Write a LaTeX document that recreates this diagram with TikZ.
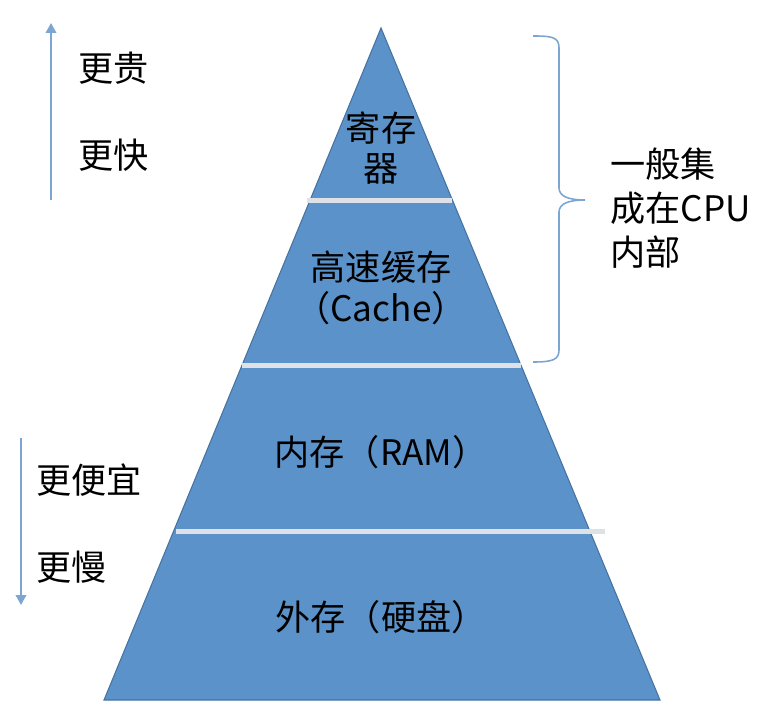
\documentclass[tikz,border=0pt]{standalone}
\usepackage{fontspec}
\setmainfont{Noto Sans CJK SC}
\usetikzlibrary{arrows.meta}

\definecolor{pyrblue}{RGB}{91,146,201}
\definecolor{pyredge}{RGB}{70,115,160}
\definecolor{arrblue}{RGB}{125,165,210}
\definecolor{sepgray}{RGB}{222,226,230}

\begin{document}
\begin{tikzpicture}[x = 0.02cm, y = -0.02cm]
\tikzstyle{LabelStyle}=[font = \fontsize{20pt}{23pt}\selectfont,
                        align = center,
                        inner sep = 0pt]
\tikzstyle{SideStyle}=[font = \fontsize{20pt}{25pt}\selectfont,
                       anchor = west,
                       inner sep = 0pt]
\tikzstyle{BarStyle}=[draw = sepgray, line width = 0.1cm]
\tikzstyle{ArrowStyle}=[draw = arrblue, line width = 1.1pt, -{Triangle[width = 0.21cm, length = 0.2cm]}]
\tikzstyle{BraceStyle}=[draw = arrblue, line width = 0.9pt]
\useasboundingbox (0,0) rectangle (766,716);
% pyramid
\filldraw[fill = pyrblue, draw = pyredge, line width = 0.6pt] (381,28) -- (660,700) -- (104,700) -- cycle;
\draw[BarStyle] (307,200) -- (452,200);
\draw[BarStyle] (242,365) -- (521,365);
\draw[BarStyle] (176,531) -- (605,531);
\node[LabelStyle] (reg) at (381,148) {寄存\\器};
\node[LabelStyle] (cache) at (381,288) {高速缓存\\（Cache）};
\node[LabelStyle] (ram) at (381,452) {内存（RAM）};
\node[LabelStyle] (disk) at (381,617) {外存（硬盘）};
% left side
\node[SideStyle] (pricey) at (78,68) {更贵};
\node[SideStyle] (fast) at (78,155) {更快};
\node[SideStyle] (cheap) at (36,480) {更便宜};
\node[SideStyle] (slow) at (36,567) {更慢};
\coordinate (upfoot) at (51,200);
\coordinate (uptip) at (51,23);
\coordinate (downfoot) at (21,438);
\coordinate (downtip) at (21,605);
\draw[ArrowStyle] (upfoot) -- (uptip);
\draw[ArrowStyle] (downfoot) -- (downtip);
% right side
\coordinate (bracetop) at (533,36);
\coordinate (bracebot) at (533,362);
\draw[BraceStyle] (bracetop) .. controls (552,36) and (559,37) .. (559,48) -- (559,188)
  .. controls (559,196) and (568,200) .. (585,200)
  .. controls (568,200) and (559,204) .. (559,212) -- (559,350)
  .. controls (559,360) and (552,362) .. (bracebot);
\node[SideStyle, align = left] (cpu) at (610,208) {一般集\\成在CPU\\内部};
\end{tikzpicture}
\end{document}
